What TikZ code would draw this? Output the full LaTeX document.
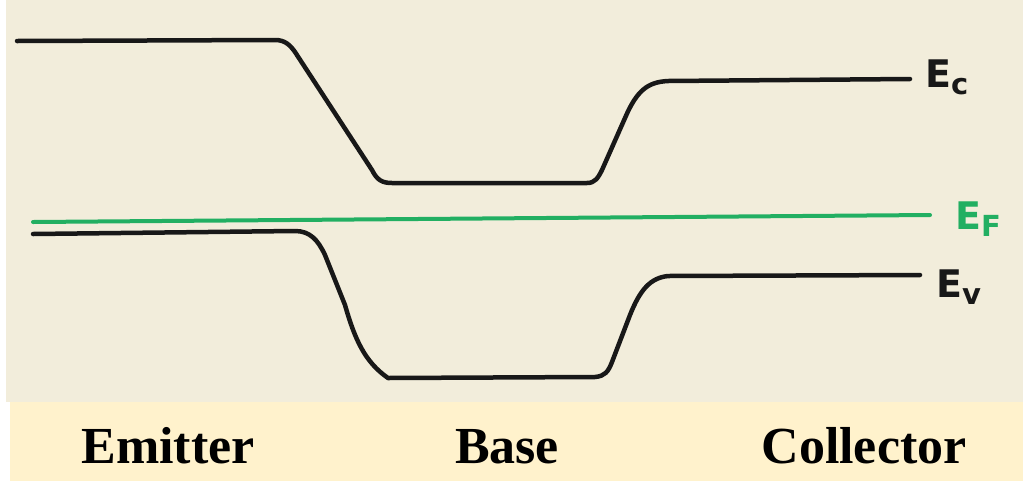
\documentclass[tikz,border=0pt]{standalone}
\usepackage{fontspec}
\setmainfont{Liberation Serif}
\newfontfamily\handfont{DejaVu Sans}
\definecolor{paper}{RGB}{242,237,219}
\definecolor{strip}{RGB}{255,242,204}
\definecolor{fermi}{RGB}{34,175,98}
\definecolor{ink}{RGB}{24,24,24}
\newcommand{\bandlabel}[2]{{\handfont\bfseries\fontsize{38}{38}\selectfont #1\raisebox{-7pt}{\fontsize{29}{29}\selectfont #2}}}
\begin{document}
\begin{tikzpicture}[x=1pt,y=-1pt,
  band/.style={draw=ink,line width=4.5pt,line cap=round,line join=round},
  fermiline/.style={draw=fermi,line width=4pt,line cap=round},
  hand/.style={anchor=base west,inner sep=0pt,text=ink},
  region/.style={anchor=base,inner sep=0pt,font=\bfseries\fontsize{52}{52}\selectfont}]
\useasboundingbox (0,0) rectangle (1023,483);
\fill[white] (0,0) rectangle (1023,483);
\fill[paper] (6,0) rectangle (1023,402);
\fill[strip] (10,402) rectangle (1023,481);
% conduction band
\draw[band] (17,41) -- (275,40) .. controls (285,40) and (290,45) .. (295,52)
  -- (372,170) .. controls (377,180) and (382,183) .. (392,183)
  -- (587,183) .. controls (595,183) and (598,178) .. (602,170)
  -- (625,118) .. controls (637,90) and (648,82) .. (668,81)
  -- (910,79) coordinate (ecend);
% Fermi level
\draw[fermiline] (33,222) coordinate (efstart) -- (930,215) coordinate (efend);
% valence band
\draw[band] (33,234) -- (295,231) .. controls (310,231) and (318,240) .. (325,255)
  -- (345,305) .. controls (355,340) and (365,362) .. (388,378)
  -- (595,377) .. controls (605,376) and (608,372) .. (612,362)
  -- (630,315) .. controls (640,290) and (650,278) .. (668,276)
  -- (920,275) coordinate (evend);
% labels
\node[hand] (ec) at (925,87) {\bandlabel{E}{c}};
\node[hand,text=fermi] (ef) at (955,229) {\bandlabel{E}{F}};
\node[hand] (ev) at (936,297) {\bandlabel{E}{v}};
\node[region] (emitter) at (168,463) {Emitter};
\node[region] (base) at (507,463) {Base};
\node[region] (collector) at (864,463) {Collector};
\end{tikzpicture}
\end{document}
